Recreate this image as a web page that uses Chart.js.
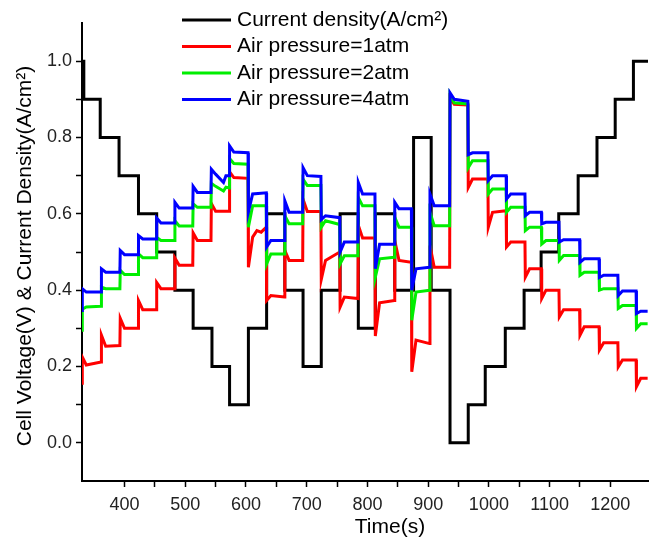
<!DOCTYPE html>
<html>
<head>
<meta charset="utf-8">
<script src="https://cdn.jsdelivr.net/npm/chart.js@4.4.1/dist/chart.umd.min.js"></script>
<style>
    html, body { margin: 0; padding: 0; background: #fff; }
</style>
</head>
<body>
<canvas id="lineChart" width="656" height="541"></canvas>
<script>
// current density steps (A/cm2), value holds from each time until the next one
var currentTimes = [330, 333, 360, 391, 423, 453, 483, 513, 544, 573, 604, 634, 664, 694, 724, 755, 785, 813, 845, 876, 905, 936, 966, 994, 1027, 1058, 1086, 1115, 1147, 1178, 1208, 1238, 1262];
var currentDensity = [1.0, 0.9, 0.8, 0.7, 0.6, 0.5, 0.4, 0.3, 0.2, 0.1, 0.3, 0.6, 0.4, 0.2, 0.4, 0.6, 0.3, 0.6, 0.4, 0.8, 0.4, 0.0, 0.1, 0.2, 0.3, 0.4, 0.5, 0.6, 0.7, 0.8, 0.9, 1.0, 1.0];

// voltage step boundaries (s)
var stepTimes = [330, 362, 393, 423, 453, 483, 513, 543, 573, 604, 634, 664, 694, 724, 755, 785, 813, 845, 873, 903, 936, 966, 999, 1029, 1060, 1087, 1116, 1150, 1182, 1213, 1243, 1262];

// each step: [value right after the change, value after settling, value at end of step]
var voltage4atm = [
    [0.404, 0.395, 0.395], [0.456, 0.447, 0.447], [0.504, 0.493, 0.493], [0.543, 0.534, 0.534],
    [0.589, 0.576, 0.576], [0.630, 0.615, 0.615], [0.672, 0.656, 0.656], [0.717, 0.704, 0.700],
    [0.778, 0.762, 0.760], [0.605, 0.652, 0.655], [0.513, 0.530, 0.530], [0.634, 0.604, 0.604],
    [0.721, 0.700, 0.698], [0.585, 0.595, 0.590], [0.500, 0.526, 0.526], [0.682, 0.652, 0.652],
    [0.456, 0.520, 0.520], [0.630, 0.613, 0.613], [0.400, 0.456, 0.460], [0.652, 0.621, 0.621],
    [0.917, 0.900, 0.895], [0.755, 0.760, 0.760], [0.687, 0.700, 0.700], [0.639, 0.652, 0.652],
    [0.595, 0.604, 0.604], [0.574, 0.578, 0.578], [0.526, 0.532, 0.532], [0.473, 0.482, 0.482],
    [0.433, 0.439, 0.439], [0.386, 0.398, 0.398], [0.339, 0.345, 0.345]
];
var voltage2atm = [
    [0.350, 0.356, 0.358], [0.408, 0.404, 0.404], [0.452, 0.441, 0.441], [0.495, 0.485, 0.485],
    [0.538, 0.530, 0.530], [0.582, 0.568, 0.568], [0.626, 0.617, 0.617], [0.680, 0.672, 0.668],
    [0.745, 0.732, 0.730], [0.565, 0.621, 0.621], [0.469, 0.495, 0.495], [0.595, 0.574, 0.574],
    [0.691, 0.674, 0.674], [0.565, 0.582, 0.572], [0.469, 0.490, 0.490], [0.643, 0.621, 0.621],
    [0.434, 0.482, 0.486], [0.591, 0.565, 0.565], [0.321, 0.395, 0.400], [0.604, 0.569, 0.569],
    [0.913, 0.891, 0.888], [0.721, 0.739, 0.739], [0.652, 0.665, 0.665], [0.604, 0.617, 0.617],
    [0.556, 0.565, 0.565], [0.521, 0.530, 0.530], [0.478, 0.491, 0.491], [0.439, 0.447, 0.447],
    [0.400, 0.404, 0.404], [0.352, 0.360, 0.360], [0.300, 0.312, 0.312]
];
var voltage1atm = [
    [0.225, 0.204, 0.212], [0.282, 0.253, 0.255], [0.326, 0.300, 0.300], [0.373, 0.349, 0.349],
    [0.420, 0.404, 0.404], [0.484, 0.465, 0.465], [0.550, 0.530, 0.530], [0.627, 0.607, 0.607],
    [0.710, 0.695, 0.693], [0.460, 0.539, 0.565], [0.373, 0.386, 0.382], [0.504, 0.478, 0.478],
    [0.638, 0.606, 0.606], [0.428, 0.478, 0.500], [0.356, 0.382, 0.378], [0.570, 0.537, 0.537],
    [0.280, 0.367, 0.373], [0.530, 0.478, 0.473], [0.186, 0.269, 0.260], [0.517, 0.460, 0.460],
    [0.904, 0.887, 0.885], [0.669, 0.691, 0.691], [0.565, 0.604, 0.608], [0.513, 0.526, 0.526],
    [0.434, 0.456, 0.456], [0.378, 0.400, 0.400], [0.330, 0.349, 0.349], [0.282, 0.304, 0.304],
    [0.243, 0.262, 0.262], [0.199, 0.217, 0.217], [0.147, 0.169, 0.169]
];

// first reading of each trace and small wiggles inside a step [time, value]
var start4atm = 0.347, start2atm = 0.295, start1atm = 0.156;
var extra4atm = [[563, 0.682], [567, 0.700]];
var extra2atm = [[563, 0.660], [567, 0.670]];
var extra1atm = [[618, 0.556], [625, 0.552]];

var legendNames = ['Current density(A/cm\u00b2)', 'Air pressure=1atm', 'Air pressure=2atm', 'Air pressure=4atm'];
var legendColors = ['#000000', '#ff0000', '#00ee00', '#0000ff'];

function buildSeries(start, steps, extras) {
    var pts = [{ x: stepTimes[0], y: start }];
    steps.forEach(function (s, k) {
        var t0 = stepTimes[k], t1 = stepTimes[k + 1];
        pts.push({ x: k === 0 ? t0 + 0.5 : t0, y: s[0] });
        pts.push({ x: t0 + 7, y: s[1] });
        pts.push({ x: t1 - 0.6, y: s[2] });
    });
    extras.forEach(function (e) {
        pts.push({ x: e[0], y: e[1] });
    });
    pts.sort(function (a, b) { return a.x - b.x; });
    return pts;
}

var currentPts = currentTimes.map(function (t, i) {
    return { x: t, y: currentDensity[i] };
});

var fontFamily = 'Arial, "Liberation Sans", sans-serif';
Chart.defaults.font.family = fontFamily;

// legend inside the plot plus the axis titles
var labelsPlugin = {
    id: 'labels',
    afterDraw: function (chart) {
        var ctx = chart.ctx;
        ctx.save();
        ctx.font = '21px ' + fontFamily;
        ctx.textBaseline = 'middle';
        ctx.fillStyle = '#000';
        legendNames.forEach(function (name, i) {
            var y = 20 + i * 26.5;
            ctx.strokeStyle = legendColors[i];
            ctx.lineWidth = 3;
            ctx.beginPath();
            ctx.moveTo(182, y);
            ctx.lineTo(231, y);
            ctx.stroke();
            ctx.textAlign = 'left';
            ctx.fillText(name, 237, y);
        });
        ctx.textAlign = 'center';
        ctx.fillText('Time(s)', 390, 527);
        ctx.translate(25, 256);
        ctx.rotate(-Math.PI / 2);
        ctx.fillText('Cell Voltage(V) & Current Density(A/cm\u00b2)', 0, 0);
        ctx.restore();
    }
};

var ctx = document.getElementById('lineChart').getContext('2d');
var lineChart = new Chart(ctx, {
    type: 'line',
    data: {
        datasets: [{
            label: legendNames[0],
            data: currentPts,
            stepped: true,
            borderColor: legendColors[0],
            borderWidth: 3,
            order: 4
        }, {
            label: legendNames[1],
            data: buildSeries(start1atm, voltage1atm, extra1atm),
            borderColor: legendColors[1],
            borderWidth: 3,
            order: 3
        }, {
            label: legendNames[2],
            data: buildSeries(start2atm, voltage2atm, extra2atm),
            borderColor: legendColors[2],
            borderWidth: 3,
            order: 2
        }, {
            label: legendNames[3],
            data: buildSeries(start4atm, voltage4atm, extra4atm),
            borderColor: legendColors[3],
            borderWidth: 3,
            order: 1
        }]
    },
    options: {
        responsive: false,
        animation: false,
        devicePixelRatio: 1,
        elements: {
            point: { radius: 0 },
            line: { tension: 0, fill: false, borderJoinStyle: 'miter' }
        },
        layout: { padding: { left: 0, top: 23, right: 8, bottom: 0 } },
        plugins: {
            legend: { display: false },
            tooltip: { enabled: false }
        },
        scales: {
            x: {
                type: 'linear',
                min: 330,
                max: 1262,
                afterBuildTicks: function (axis) {
                    axis.ticks = axis.ticks.filter(function (t) { return t.value % 50 === 0; });
                },
                afterFit: function (axis) { axis.height = 60; },
                ticks: {
                    stepSize: 50,
                    autoSkip: false,
                    maxRotation: 0,
                    padding: 7,
                    color: '#222',
                    font: { size: 18 },
                    callback: function (v) { return v % 100 === 0 ? String(v) : ''; }
                },
                grid: { display: true, drawOnChartArea: false, drawTicks: true, tickLength: 6, tickColor: '#000', tickWidth: 1.5 },
                border: { display: true, color: '#000', width: 2 }
            },
            y: {
                min: -0.1,
                max: 1.1,
                afterBuildTicks: function (axis) {
                    axis.ticks = axis.ticks.filter(function (t) { return t.value > -0.05 && t.value < 1.05; });
                },
                afterFit: function (axis) { axis.width = 82; },
                ticks: {
                    stepSize: 0.1,
                    autoSkip: false,
                    padding: 4,
                    color: '#222',
                    font: { size: 18 },
                    callback: function (v) { return Math.round(v * 10) % 2 === 0 ? v.toFixed(1) : ''; }
                },
                grid: { display: true, drawOnChartArea: false, drawTicks: true, tickLength: 6, tickColor: '#000', tickWidth: 1.5 },
                border: { display: true, color: '#000', width: 2 }
            }
        }
    },
    plugins: [labelsPlugin]
});
</script>
</body>
</html>
